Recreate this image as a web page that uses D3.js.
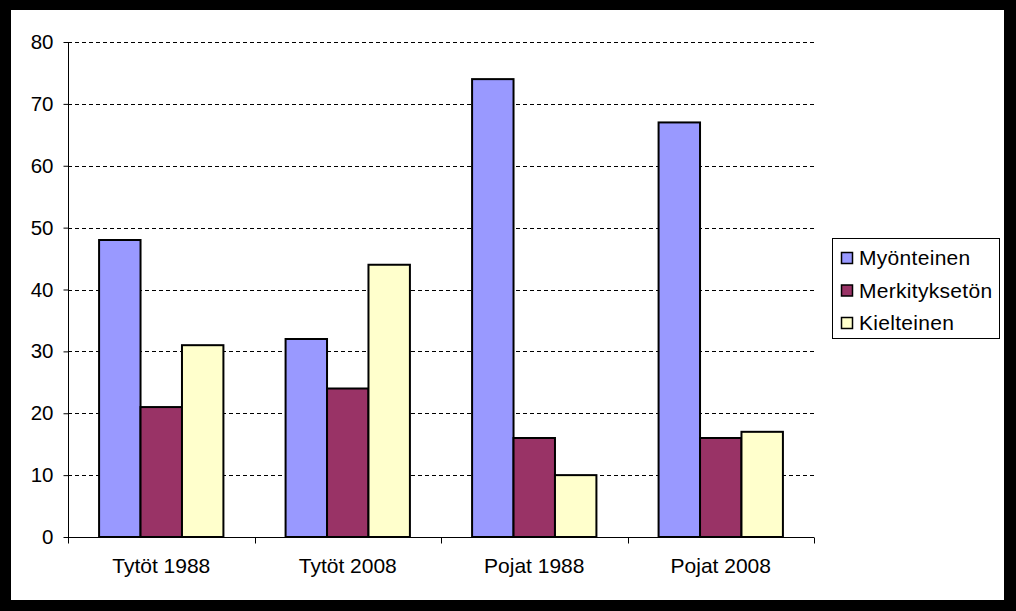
<!DOCTYPE html>
<html><head><meta charset="utf-8">
<script src="https://cdn.jsdelivr.net/npm/d3@7"></script>
<style>
html,body{margin:0;padding:0;background:#000;}
svg{display:block;}
text{font-family:"Liberation Sans",Arial,sans-serif;fill:#000;}
</style></head>
<body>
<svg id="chart" width="1016" height="611"></svg>
<script>
const categories = ["Tytöt 1988", "Tytöt 2008", "Pojat 1988", "Pojat 2008"];
const seriesNames = ["Myönteinen", "Merkityksetön", "Kielteinen"];
const myonteinen = [48, 32, 74, 67];
const merkitykseton = [21, 24, 16, 16];
const kielteinen = [31, 44, 10, 17];
const seriesColors = ["#9999FF", "#993366", "#FFFFCC"];
const yTicks = [0, 10, 20, 30, 40, 50, 60, 70, 80];

const seriesValues = [myonteinen, merkitykseton, kielteinen];

const svg = d3.select("#chart");
svg.append("rect").attr("x", 0).attr("y", 0).attr("width", 1016).attr("height", 611).attr("fill", "#000");
svg.append("rect").attr("x", 11).attr("y", 10).attr("width", 993).attr("height", 590).attr("fill", "#fff");

const plot = {left: 68, right: 814, top: 42, bottom: 537};

const y = d3.scaleLinear().domain([0, 80]).range([plot.bottom, plot.top]);
const x = d3.scaleBand().domain(categories).range([plot.left, plot.right]).padding(0);
const bw = x.bandwidth();
const gapHalf = bw * 0.75 / 4.5;
const xs = d3.scaleBand().domain(seriesNames).range([gapHalf, bw - gapHalf]).padding(0);

// gridlines
svg.append("g").selectAll("line").data(yTicks.filter(d => d > 0)).join("line")
  .attr("x1", plot.left).attr("x2", plot.right)
  .attr("y1", d => Math.round(y(d)) + 0.5).attr("y2", d => Math.round(y(d)) + 0.5)
  .attr("stroke", "#000").attr("stroke-width", 1).attr("stroke-dasharray", "4,3");

// bars
const groups = svg.append("g").selectAll("g").data(categories).join("g")
  .attr("transform", d => `translate(${x(d)},0)`);
groups.selectAll("rect").data((c, i) => seriesNames.map((s, j) => ({s, j, v: seriesValues[j][i]}))).join("rect")
  .attr("x", d => xs(d.s))
  .attr("width", xs.bandwidth())
  .attr("y", d => y(d.v))
  .attr("height", d => y(0) - y(d.v))
  .attr("fill", d => seriesColors[d.j])
  .attr("stroke", "#000").attr("stroke-width", 2);

// y axis
const yAxis = svg.append("g").attr("transform", `translate(${plot.left + 0.5},0)`)
  .call(d3.axisLeft(y).tickValues(yTicks).tickSize(5).tickPadding(10).tickFormat(d3.format("d")));
yAxis.select(".domain").attr("stroke", "#000").attr("d", `M0,${plot.top}V${plot.bottom}`);
yAxis.selectAll(".tick line").attr("stroke", "#000");
yAxis.selectAll("text").style("font-size", "20.5px").attr("fill", "#000").attr("font-family", null);

// x axis
const xAxis = svg.append("g").attr("transform", `translate(0,${plot.bottom + 0.5})`)
  .call(d3.axisBottom(x).tickSize(0).tickPadding(21));
xAxis.select(".domain").attr("stroke", "#000").attr("d", `M${plot.left},0H${plot.right}`);
xAxis.selectAll("text").style("font-size", "21px").attr("fill", "#000").attr("font-family", null);
const bounds = categories.map(c => x(c)).concat([x(categories[categories.length - 1]) + x.step()]);
xAxis.append("g").selectAll("line").data(bounds).join("line")
  .attr("x1", d => Math.round(d) + 0.5).attr("x2", d => Math.round(d) + 0.5)
  .attr("y1", 0).attr("y2", 6).attr("stroke", "#000");

// legend
const lg = svg.append("g").attr("transform", "translate(832,238)");
lg.append("rect").attr("x", 0.5).attr("y", 0.5).attr("width", 167).attr("height", 100)
  .attr("fill", "#fff").attr("stroke", "#000");
const items = lg.selectAll("g.item").data(seriesNames).join("g").attr("class", "item")
  .attr("transform", (d, i) => `translate(0,${20 + i * 32.5})`);
items.append("rect").attr("x", 9.5).attr("y", -5.5).attr("width", 11).attr("height", 11)
  .attr("fill", (d, i) => seriesColors[i]).attr("stroke", "#000").attr("stroke-width", 1.5);
items.append("text").attr("x", 27).attr("y", 0).attr("dy", "0.35em")
  .style("font-size", "21px").style("letter-spacing", "0.3px").text(d => d);
</script>
</body></html>
